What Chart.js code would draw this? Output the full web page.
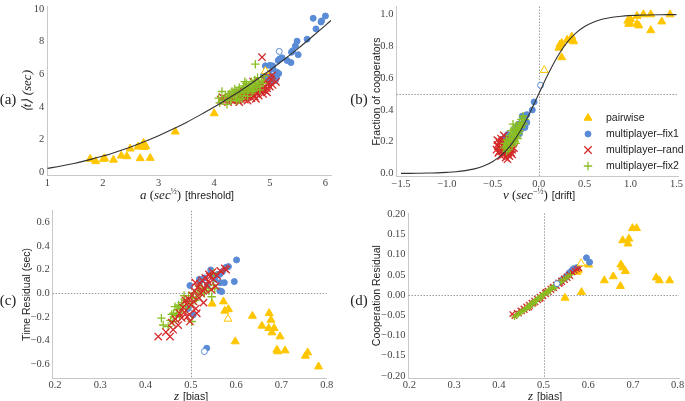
<!DOCTYPE html>
<html>
<head>
<meta charset="utf-8">
<script src="https://cdn.jsdelivr.net/npm/chart.js@4.4.0/dist/chart.umd.min.js"></script>
<style>
  body { margin: 0; background: #fff; }
  #wrap { position: relative; width: 685px; height: 401px; overflow: hidden; }
  canvas { position: absolute; left: 0; top: 0; }
  .lbl { position: absolute; transform: translate(-50%, -50%); white-space: nowrap; color: #222; line-height: 1; }
  .serif { font-family: 'Liberation Serif', serif; }
  .sf { font-family: 'Liberation Sans', sans-serif; font-size: 10.5px; }
  sup { font-size: 8px; vertical-align: 5px; }
</style>
</head>
<body>
<div id="wrap">
  <canvas id="chart-a" width="685" height="401"></canvas>
  <canvas id="chart-b" width="685" height="401"></canvas>
  <canvas id="chart-c" width="685" height="401"></canvas>
  <canvas id="chart-d" width="685" height="401"></canvas>

  <div class="lbl serif" style="left:8px;top:99px;font-size:15px">(a)</div>
  <div class="lbl serif" style="left:359px;top:99px;font-size:15px">(b)</div>
  <div class="lbl serif" style="left:8px;top:300px;font-size:15px">(c)</div>
  <div class="lbl serif" style="left:359px;top:300px;font-size:15px">(d)</div>

  <div class="lbl" style="left:187px;top:194px"><span class="serif" style="font-size:13px"><i>a</i> (<i>sec</i><sup>½</sup>)</span> <span class="sf">[threshold]</span></div>
  <div class="lbl" style="left:539px;top:194px"><span class="serif" style="font-size:13px"><i>v</i> (<i>sec</i><sup>−½</sup>)</span> <span class="sf">[drift]</span></div>
  <div class="lbl" style="left:191px;top:395px"><span class="serif" style="font-size:13px"><i>z</i></span> <span class="sf">[bias]</span></div>
  <div class="lbl" style="left:545px;top:395px"><span class="serif" style="font-size:13px"><i>z</i></span> <span class="sf">[bias]</span></div>
</div>

<script>
const YEL = '#FFC600';
const BLU = '#5A8BD6';
const RED = '#D42A2A';
const GRN = '#89BE22';

const legendLabels = ['pairwise', 'multiplayer\u2013fix1', 'multiplayer\u2013rand', 'multiplayer\u2013fix2'];

// ---- panel (a): mean time vs threshold ----
const aXTicks = [1, 2, 3, 4, 5, 6];
const aYTicks = [0, 2, 4, 6, 8, 10];
const aCurveX = [1, 1.25, 1.5, 1.75, 2, 2.25, 2.5, 2.75, 3, 3.25, 3.5, 3.75, 4, 4.25, 4.5, 4.75, 5, 5.25, 5.5, 5.75, 6, 6.1];
const aCurveY = [0.25, 0.39, 0.56, 0.77, 1.0, 1.27, 1.56, 1.89, 2.25, 2.64, 3.06, 3.52, 4.0, 4.52, 5.06, 5.64, 6.25, 6.89, 7.56, 8.27, 9.0, 9.3];
const aPairwise = [[1.77,0.82],[1.87,0.68],[2.01,0.82],[2.03,0.86],[2.19,0.77],[2.33,1.02],[2.43,0.98],[2.49,1.45],[2.63,1.57],[2.67,0.86],[2.73,1.80],[2.74,1.55],[2.77,1.60],[2.85,0.88],[3.30,2.49],[4.00,3.61]];
const aPairHollow = [[4.92,6.2]];
const aFix1 = [[6.0,9.57],[5.78,9.43],[5.93,9.27],[5.92,9.2],[5.83,8.78],[5.67,8.15],[5.49,8.03],[5.46,7.74],[5.41,7.44],[5.39,7.35],[5.51,7.2],[5.31,6.85],[5.38,6.72],[5.22,7.01],[5.18,6.95],[5.15,6.85],[5.05,6.52],[5.0,6.55],[4.92,6.52],[5.06,6.32],[5.13,6.13],[5.16,6.05],[4.98,6.03],[5.04,5.87],[5.12,5.82],[4.95,5.73],[4.89,5.96],[5.10,5.63],[5.0,5.45]];
const aFix1Hollow = [[5.17,7.40]];
const aRand = [[4.12,4.45],[4.18,4.38],[4.22,4.52],[4.25,4.30],[4.28,4.62],[4.30,4.45],[4.33,4.70],[4.35,4.35],[4.38,4.55],[4.40,4.80],[4.42,4.42],[4.44,4.65],[4.46,4.90],[4.48,4.50],[4.50,4.72],[4.52,4.60],[4.53,4.95],[4.55,4.45],[4.57,4.80],[4.58,5.05],[4.60,4.62],[4.62,4.88],[4.63,4.70],[4.65,5.10],[4.67,4.55],[4.68,4.95],[4.70,4.78],[4.72,5.20],[4.73,4.65],[4.75,5.00],[4.77,4.85],[4.78,5.30],[4.80,4.70],[4.82,5.10],[4.84,4.95],[4.85,5.45],[4.87,5.05],[4.88,4.80],[4.90,5.25],[4.92,5.00],[4.93,5.60],[4.95,5.15],[4.97,5.40],[5.00,5.25],[5.02,5.70],[5.05,5.35],[4.60,4.40],[4.45,4.30],[4.75,4.50],[4.95,4.90],[4.86,7.05],[5.11,5.54],[4.97,6.10],[5.04,5.93],[4.70,5.55],[4.15,4.60]];
const aFix2 = [[4.08,4.55],[4.14,4.95],[4.10,4.26],[4.23,4.16],[4.15,4.40],[4.20,4.65],[4.25,4.50],[4.28,4.80],[4.30,4.40],[4.32,4.95],[4.35,4.60],[4.37,5.10],[4.40,4.75],[4.42,4.55],[4.43,5.00],[4.45,5.20],[4.47,4.85],[4.50,5.05],[4.52,4.70],[4.53,5.30],[4.55,4.95],[4.57,5.15],[4.58,5.45],[4.60,4.85],[4.62,5.05],[4.63,5.35],[4.65,5.20],[4.67,5.55],[4.68,4.95],[4.70,5.30],[4.72,5.10],[4.73,5.65],[4.75,5.40],[4.77,5.20],[4.78,5.80],[4.80,5.50],[4.82,5.30],[4.85,5.65],[4.88,5.45],[4.90,5.90],[4.74,6.62],[4.40,4.40],[4.50,4.50],[4.60,4.65],[4.35,4.85],[4.25,4.75],[4.45,4.45],[4.82,5.05],[4.70,5.00],[4.55,5.55]];

// ---- panel (b): fraction of cooperators vs drift ----
const bXTicks = [-1.5, -1.0, -0.5, 0.0, 0.5, 1.0, 1.5];
const bYTicks = [0.0, 0.2, 0.4, 0.6, 0.8, 1.0];
const bCurveX = [-1.5,-1.4,-1.3,-1.2,-1.1,-1.0,-0.9,-0.8,-0.7,-0.6,-0.5,-0.4,-0.3,-0.2,-0.1,0,0.1,0.2,0.3,0.4,0.5,0.6,0.7,0.8,0.9,1.0,1.1,1.2,1.3,1.4,1.5];
const bCurveY = [0.001,0.001,0.002,0.003,0.004,0.007,0.011,0.018,0.029,0.047,0.076,0.119,0.182,0.269,0.378,0.5,0.622,0.731,0.818,0.881,0.924,0.953,0.971,0.982,0.989,0.993,0.996,0.997,0.998,0.999,0.999];
const bPairwise = [[0.22,0.79],[0.23,0.81],[0.25,0.82],[0.25,0.73],[0.31,0.84],[0.36,0.86],[0.37,0.84],[0.38,0.83],[0.97,0.96],[0.98,0.94],[0.99,0.95],[1.00,0.97],[1.07,0.99],[1.07,0.94],[1.09,0.93],[1.14,1.00],[1.22,1.00],[1.22,0.90],[1.34,0.955],[1.43,1.00]];
const bPairHollow = [[0.06,0.65]];
const bFix1 = [[-0.05,0.45],[-0.07,0.40],[-0.13,0.37],[-0.13,0.32],[-0.16,0.34],[-0.18,0.36],[-0.17,0.30],[-0.20,0.31],[-0.19,0.28],[-0.22,0.31],[-0.23,0.26],[-0.25,0.29],[-0.26,0.27],[-0.28,0.22],[-0.30,0.21],[-0.33,0.20],[-0.38,0.22],[-0.34,0.245],[-0.21,0.25],[-0.15,0.29]];
const bFix1Hollow = [[0.02,0.555]];
const bRand = [[-0.46,0.15],[-0.45,0.18],[-0.44,0.13],[-0.43,0.20],[-0.42,0.16],[-0.41,0.11],[-0.41,0.22],[-0.40,0.14],[-0.39,0.18],[-0.38,0.12],[-0.38,0.21],[-0.37,0.16],[-0.36,0.10],[-0.36,0.19],[-0.35,0.14],[-0.34,0.22],[-0.34,0.12],[-0.33,0.17],[-0.32,0.15],[-0.32,0.11],[-0.31,0.20],[-0.30,0.13],[-0.30,0.17],[-0.29,0.15],[-0.28,0.19],[-0.27,0.16],[-0.44,0.17],[-0.43,0.14],[-0.40,0.20],[-0.39,0.15],[-0.37,0.13],[-0.35,0.17],[-0.33,0.13],[-0.31,0.16],[-0.42,0.19],[-0.38,0.24],[-0.36,0.14],[-0.34,0.09],[-0.29,0.12],[-0.45,0.21]];
const bFix2 = [[-0.38,0.16],[-0.37,0.19],[-0.36,0.17],[-0.35,0.21],[-0.34,0.18],[-0.33,0.20],[-0.32,0.22],[-0.32,0.17],[-0.31,0.24],[-0.30,0.20],[-0.30,0.27],[-0.29,0.22],[-0.28,0.25],[-0.27,0.21],[-0.27,0.28],[-0.26,0.24],[-0.25,0.27],[-0.24,0.23],[-0.24,0.30],[-0.23,0.26],[-0.22,0.29],[-0.21,0.32],[-0.21,0.27],[-0.20,0.30],[-0.19,0.34],[-0.19,0.29],[-0.18,0.32],[-0.17,0.36],[-0.16,0.31],[-0.15,0.34],[-0.33,0.15],[-0.29,0.18],[-0.26,0.20],[-0.23,0.22],[-0.35,0.14],[-0.28,0.31],[-0.25,0.19],[-0.22,0.25]];

// ---- panel (c): time residual vs bias ----
const cXTicks = [0.2, 0.3, 0.4, 0.5, 0.6, 0.7, 0.8];
const cYTicks = [-0.6, -0.4, -0.2, 0.0, 0.2, 0.4, 0.6];
const cPairwise = [[0.547,-0.09],[0.572,-0.071],[0.575,-0.15],[0.583,-0.136],[0.598,-0.41],[0.636,-0.193],[0.657,-0.277],[0.673,-0.17],[0.677,-0.227],[0.672,-0.297],[0.684,-0.297],[0.679,-0.334],[0.697,-0.368],[0.690,-0.481],[0.692,-0.495],[0.708,-0.487],[0.753,-0.532],[0.758,-0.504],[0.782,-0.623]];
const cPairHollow = [[0.582,-0.218]];
const cFix1 = [[0.601,0.283],[0.583,0.226],[0.578,0.22],[0.544,0.198],[0.564,0.161],[0.557,0.155],[0.550,0.14],[0.574,0.09],[0.596,0.099],[0.565,0.09],[0.568,0.014],[0.564,0.02],[0.519,0.119],[0.498,0.065],[0.537,0.07],[0.505,-0.184],[0.494,-0.13],[0.535,-0.467],[0.56,0.16],[0.553,0.12],[0.57,0.185],[0.545,0.165],[0.52,0.10],[0.53,0.13]];
const cFix1Hollow = [[0.53,-0.495]];
const cRand = [[0.428,-0.368],[0.454,-0.368],[0.445,-0.33],[0.461,-0.31],[0.458,-0.25],[0.466,-0.22],[0.472,-0.27],[0.475,-0.17],[0.480,-0.21],[0.483,-0.12],[0.486,-0.16],[0.490,-0.09],[0.492,-0.20],[0.495,-0.05],[0.498,-0.24],[0.500,-0.10],[0.503,-0.02],[0.506,-0.07],[0.508,0.02],[0.511,-0.13],[0.513,-0.17],[0.515,0.05],[0.518,-0.04],[0.520,0.08],[0.522,0.00],[0.525,0.11],[0.528,-0.08],[0.530,0.04],[0.532,0.13],[0.535,0.07],[0.538,0.10],[0.540,0.16],[0.542,0.14],[0.545,0.03],[0.548,0.18],[0.550,0.12],[0.555,0.06],[0.558,0.15],[0.565,0.19],[0.575,0.21],[0.578,0.20],[0.488,-0.06],[0.497,-0.18],[0.510,0.09],[0.527,0.02]];
const cFix2 = [[0.435,-0.212],[0.439,-0.27],[0.450,-0.283],[0.455,-0.23],[0.461,-0.241],[0.462,-0.17],[0.465,-0.114],[0.468,-0.19],[0.470,-0.14],[0.473,-0.10],[0.476,-0.127],[0.478,-0.16],[0.480,-0.08],[0.483,-0.11],[0.486,-0.05],[0.489,-0.13],[0.492,-0.07],[0.495,-0.02],[0.498,-0.09],[0.502,-0.24],[0.503,-0.04],[0.506,0.00],[0.510,-0.06],[0.513,-0.042],[0.516,0.02],[0.520,-0.01],[0.525,0.04],[0.530,0.00],[0.535,0.042],[0.540,0.02],[0.546,-0.03],[0.550,0.07],[0.553,0.04],[0.550,0.17],[0.475,-0.20],[0.458,-0.18],[0.485,-0.02],[0.518,0.06]];

// ---- panel (d): cooperation residual vs bias ----
const dXTicks = [0.2, 0.3, 0.4, 0.5, 0.6, 0.7, 0.8];
const dYTicks = [-0.20, -0.15, -0.10, -0.05, 0.00, 0.05, 0.10, 0.15, 0.20];
const dPairwise = [[0.699,0.165],[0.708,0.165],[0.677,0.135],[0.691,0.139],[0.689,0.127],[0.673,0.075],[0.677,0.068],[0.683,0.059],[0.656,0.046],[0.636,0.036],[0.672,0.022],[0.752,0.043],[0.759,0.036],[0.782,0.036],[0.601,0.075],[0.585,0.007],[0.548,-0.007],[0.575,0.057],[0.578,0.062]];
const dPairHollow = [[0.584,0.078]];
const dFix1 = [[0.596,0.092],[0.603,0.081],[0.567,0.065],[0.563,0.060],[0.558,0.055],[0.553,0.048],[0.575,0.068],[0.548,0.042],[0.540,0.036]];
const dFix1Hollow = [[0.53,0.028]];
const dRand = [[0.430,-0.047],[0.435,-0.052],[0.440,-0.044],[0.445,-0.046],[0.448,-0.038],[0.452,-0.040],[0.455,-0.033],[0.458,-0.037],[0.461,-0.028],[0.464,-0.032],[0.467,-0.024],[0.470,-0.027],[0.473,-0.019],[0.476,-0.022],[0.479,-0.014],[0.482,-0.018],[0.485,-0.009],[0.488,-0.013],[0.491,-0.004],[0.494,-0.008],[0.497,0.001],[0.500,-0.003],[0.503,0.006],[0.506,0.002],[0.509,0.011],[0.512,0.007],[0.515,0.016],[0.518,0.012],[0.521,0.021],[0.524,0.017],[0.527,0.026],[0.530,0.022],[0.533,0.031],[0.536,0.027],[0.539,0.036],[0.542,0.032],[0.545,0.041],[0.548,0.037],[0.551,0.046],[0.554,0.042],[0.557,0.051],[0.560,0.047],[0.565,0.056],[0.570,0.060],[0.575,0.064],[0.580,0.066],[0.468,-0.031],[0.478,-0.020],[0.492,-0.010],[0.505,0.008],[0.520,0.019],[0.538,0.030]];
const dFix2 = [[0.435,-0.054],[0.440,-0.050],[0.444,-0.047],[0.448,-0.043],[0.452,-0.041],[0.456,-0.037],[0.460,-0.034],[0.463,-0.031],[0.466,-0.028],[0.469,-0.026],[0.472,-0.022],[0.475,-0.020],[0.478,-0.017],[0.481,-0.015],[0.484,-0.012],[0.487,-0.009],[0.490,-0.007],[0.493,-0.004],[0.496,-0.002],[0.499,0.001],[0.502,0.003],[0.505,0.006],[0.508,0.008],[0.511,0.011],[0.514,0.013],[0.517,0.016],[0.520,0.018],[0.524,0.021],[0.528,0.025],[0.532,0.028],[0.536,0.031],[0.540,0.034],[0.545,0.038],[0.550,0.042],[0.555,0.046],[0.560,0.050],[0.470,-0.029],[0.480,-0.021],[0.495,-0.008],[0.510,0.005],[0.525,0.017]];

const PAGE_W = 685, PAGE_H = 401;
const TICK_FONT = {family: "'Liberation Serif', serif", size: 10.5};
const SANS = "'Liberation Sans', sans-serif";

const STYLES = {
  pair: {pointStyle: 'triangle', radius: 4.6, fill: YEL, line: YEL, width: 1},
  fix1: {pointStyle: 'circle', radius: 3, fill: BLU, line: BLU, width: 1},
  rand: {pointStyle: 'crossRot', radius: 5.2, fill: RED, line: RED, width: 1.3},
  fix2: {pointStyle: 'cross', radius: 4.2, fill: GRN, line: GRN, width: 1.3},
};

function pts(arr) {
  return arr.map(p => ({x: p[0], y: p[1]}));
}

function zip(xs, ys) {
  return xs.map((x, i) => ({x: x, y: ys[i]}));
}

function markers(arr, key, radius, hollow) {
  const s = STYLES[key];
  return {
    data: pts(arr),
    pointStyle: s.pointStyle,
    pointRadius: radius || s.radius,
    backgroundColor: hollow ? '#fff' : s.fill,
    borderColor: s.line,
    borderWidth: s.width,
    clip: false,
  };
}

function curve(xs, ys) {
  return {
    data: zip(xs, ys),
    showLine: true,
    borderColor: '#333',
    borderWidth: 1.1,
    pointRadius: 0,
    cubicInterpolationMode: 'monotone',
  };
}

function fmt(v, dec) {
  const s = Math.abs(v).toFixed(dec);
  return (v < -1e-9 ? '\u2212' : '') + s;
}

function axis(min, max, ticks, dec, size, pad) {
  return {
    type: 'linear',
    min: min,
    max: max,
    grid: {display: false, drawTicks: false},
    border: {display: true, color: '#c8c8c8', width: 1},
    ticks: {
      font: TICK_FONT,
      color: '#444',
      padding: pad,
      autoSkip: false,
      maxRotation: 0,
      callback: v => fmt(v, dec),
    },
    afterBuildTicks: s => { s.ticks = ticks.map(v => ({value: v})); },
    afterFit: s => {
      if (s.isHorizontal()) s.height = size; else s.width = size;
      s.paddingTop = 0; s.paddingBottom = 0; s.paddingLeft = 0; s.paddingRight = 0;
    },
  };
}

// dotted reference lines through the plot
const refLines = {
  id: 'refLines',
  beforeDatasetsDraw(chart, args, opts) {
    if (opts.x === undefined) return;
    const {ctx, chartArea: a, scales} = chart;
    const px = Math.round(scales.x.getPixelForValue(opts.x)) + 0.5;
    const py = Math.round(scales.y.getPixelForValue(opts.y)) + 0.5;
    ctx.save();
    ctx.strokeStyle = '#9a9a9a';
    ctx.lineWidth = 1;
    ctx.setLineDash([1.5, 1.5]);
    ctx.beginPath();
    ctx.moveTo(px, a.top); ctx.lineTo(px, a.bottom);
    ctx.moveTo(a.left, py); ctx.lineTo(a.right, py);
    ctx.stroke();
    ctx.restore();
  }
};

// legend drawn inside panel (b)
const keyBox = {
  id: 'keyBox',
  afterDraw(chart, args, opts) {
    if (!opts.show) return;
    const ctx = chart.ctx;
    const keys = ['pair', 'fix1', 'rand', 'fix2'];
    ctx.save();
    keys.forEach((k, i) => {
      const s = STYLES[k];
      const y = opts.y + i * opts.gap;
      ctx.fillStyle = s.fill;
      ctx.strokeStyle = s.line;
      ctx.lineWidth = s.width;
      Chart.helpers.drawPoint(ctx, {pointStyle: s.pointStyle, radius: s.radius, borderWidth: s.width, rotation: 0}, opts.x, y);
      ctx.fillStyle = '#222';
      ctx.font = '10.5px ' + SANS;
      ctx.textBaseline = 'middle';
      ctx.textAlign = 'left';
      ctx.fillText(legendLabels[i], opts.x + 18, y);
    });
    ctx.restore();
  }
};

function panel(id, area, yW, xs, ys, yTitle, datasets, extra) {
  const yAxis = ys;
  yAxis.title = {
    display: true,
    text: yTitle.text,
    font: yTitle.font,
    color: '#222',
    padding: {top: 0, bottom: 0},
  };
  return new Chart(document.getElementById(id), {
    type: 'scatter',
    data: {datasets: datasets},
    options: {
      responsive: false,
      animation: false,
      devicePixelRatio: 1,
      events: [],
      layout: {
        padding: {
          left: area.l - yW,
          right: PAGE_W - area.r,
          top: area.t,
          bottom: PAGE_H - area.b - 20,
        }
      },
      plugins: Object.assign({legend: {display: false}, tooltip: {enabled: false}}, extra),
      scales: {x: xs, y: yAxis},
    },
    plugins: [refLines, keyBox],
  });
}

const sansTitle = {family: SANS, size: 10.5};

panel('chart-a', {l: 47.3, r: 331, t: 0, b: 175.7}, 27.1,
  axis(1, 6.1, aXTicks, 0, 20, 1),
  axis(-0.2, 10.15, aYTicks, 0, 27.1, 3),
  {text: '\u27e8t\u27e9 (sec)', font: {family: "'Liberation Serif', serif", size: 13, style: 'italic'}},
  [curve(aCurveX, aCurveY),
   markers(aPairHollow, 'pair', 0, true), markers(aFix1Hollow, 'fix1', 0, true),
   markers(aFix2, 'fix2'), markers(aRand, 'rand'), markers(aFix1, 'fix1'), markers(aPairwise, 'pair')],
  {});

panel('chart-b', {l: 396.4, r: 678.3, t: 1.8, b: 176.7}, 26,
  axis(-1.55, 1.52, bXTicks, 1, 20, 1),
  axis(-0.02, 1.05, bYTicks, 1, 26, 3),
  {text: 'Fraction of cooperators', font: sansTitle},
  [curve(bCurveX, bCurveY),
   markers(bPairHollow, 'pair', 0, true), markers(bFix1Hollow, 'fix1', 0, true),
   markers(bFix2, 'fix2'), markers(bRand, 'rand'), markers(bFix1, 'fix1'), markers(bPairwise, 'pair')],
  {refLines: {x: 0, y: 0.5}, keyBox: {show: true, x: 588, y: 118, gap: 16}});

panel('chart-c', {l: 52.7, r: 326.7, t: 210.8, b: 378}, 32.3,
  axis(0.195, 0.8, cXTicks, 1, 20, 1),
  axis(-0.72, 0.7, cYTicks, 1, 32.3, 3),
  {text: 'Time Residual (sec)', font: sansTitle},
  [markers(cPairHollow, 'pair', 0, true), markers(cFix1Hollow, 'fix1', 0, true),
   markers(cRand, 'rand'), markers(cFix2, 'fix2'), markers(cFix1, 'fix1'), markers(cPairwise, 'pair')],
  {refLines: {x: 0.5, y: 0}});

panel('chart-d', {l: 408.5, r: 679, t: 213.3, b: 378}, 38.1,
  axis(0.198, 0.803, dXTicks, 1, 20, 1),
  axis(-0.205, 0.202, dYTicks, 2, 38.1, 3),
  {text: 'Cooperation Residual', font: sansTitle},
  [markers(dPairHollow, 'pair', 0, true), markers(dFix1Hollow, 'fix1', 0, true),
   markers(dFix2, 'fix2', 3.2), markers(dRand, 'rand', 3.8), markers(dFix1, 'fix1'), markers(dPairwise, 'pair')],
  {refLines: {x: 0.5, y: 0}});
</script>
</body>
</html>
